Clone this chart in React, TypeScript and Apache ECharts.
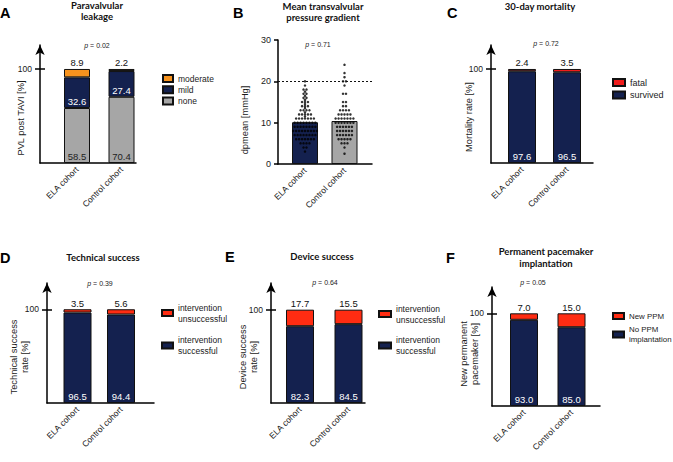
import React, { useEffect, useRef } from 'react';
import * as echarts from 'echarts';

const cohorts = ['ELA cohort', 'Control cohort'];

// A - Paravalvular leakage
const pvlNone = [58.5, 70.4];
const pvlMild = [32.6, 27.4];
const pvlModerate = [8.9, 2.2];

// B - Mean transvalvular pressure gradient
const gradientMean = [10.1, 10.4];
const gradientTicks = [0, 10, 20, 30];
const gradientThreshold = 20;
const elaGradient = [
  20, 19, 18, 18, 17, 17.5, 17, 16, 16, 16.5, 15, 15, 15.5, 15, 14, 14, 14.5, 14,
  13, 13, 13, 13.5, 13, 12, 12, 12, 12, 12.5, 12, 11, 11, 11, 11, 11, 11, 11.5, 11,
  10, 10, 10, 10, 10, 10, 10, 10, 9, 9, 9, 9, 9, 9, 9, 9, 8, 8, 8, 8, 8, 8, 8, 8, 8,
  7, 7, 7, 7, 7, 7, 7, 7, 6, 6, 6, 6, 6, 6, 6, 5, 5, 5, 5, 4, 4, 3,
];
const controlGradient = [
  24, 22, 21, 20, 20, 19, 17, 17, 15, 15, 14, 14, 13, 13, 13, 13, 12, 12, 12, 12, 12,
  11, 11, 11, 11, 11, 11, 11, 10, 10, 10, 10, 10, 10, 10, 9, 9, 9, 9, 9, 9,
  8, 8, 8, 8, 8, 8, 7, 7, 7, 7, 7, 7, 6, 6, 6, 6, 6, 5, 5, 5, 4, 2.5,
];

// C - 30-day mortality
const mortSurvived = [97.6, 96.5];
const mortFatal = [2.4, 3.5];

// D - Technical success
const techSuccess = [96.5, 94.4];
const techFail = [3.5, 5.6];

// E - Device success
const devSuccess = [82.3, 84.5];
const devFail = [17.7, 15.5];

// F - Permanent pacemaker implantation
const noPpm = [93.0, 85.0];
const newPpm = [7.0, 15.0];

const pValues = ['0.02', '0.71', '0.72', '0.39', '0.64', '0.05'];
const percentTicks = [100];

const NAVY = '#14214f';
const GRAY = '#a6a6a6';
const ORANGE = '#f7931e';
const RED_C = '#f01c1c';
const RED = '#ff2c12';
const INK = '#1a1a1a';
const FONT = '"Liberation Sans", Arial, sans-serif';
const TITLE_FONT = 'Lato, "Open Sans", sans-serif';

function swarm(values: number[], center: number, step: number) {
  const counts = new Map<number, number>();
  const seen = new Map<number, number>();
  values.forEach((v) => counts.set(v, (counts.get(v) || 0) + 1));
  return values.map((v) => {
    const n = counts.get(v) || 1;
    const k = seen.get(v) || 0;
    seen.set(v, k + 1);
    return [center + (k - (n - 1) / 2) * step, v];
  });
}

// panel frames: axis extents and bar centres (pixels)
const panels = [
  { left: 40, right: 136, top: 45, bottom: 163, c: [77, 121.5], yMax: 125.5, barW: 26 },
  { left: 278, right: 372, top: 40, bottom: 164, c: [305, 344.5], yMax: 30, barW: 26 },
  { left: 491, right: 593, top: 45, bottom: 163, c: [522, 567], yMax: 125.5, barW: 28 },
  { left: 47, right: 154, top: 283, bottom: 403, c: [77.5, 121], yMax: 128, barW: 28 },
  { left: 271, right: 365, top: 283, bottom: 403, c: [300, 348.5], yMax: 128.6, barW: 28 },
  { left: 492, right: 600, top: 287, bottom: 406, c: [524, 571.5], yMax: 128.4, barW: 28 },
];

function buildOption() {
  const grid: any[] = [];
  const xAxis: any[] = [];
  const yAxis: any[] = [];
  const frameX: number[] = [];
  const frameY: number[] = [];
  const barX: number[] = [];
  const barY: number[] = [];

  const xLabel = {
    rotate: 45,
    fontSize: 8.5,
    color: INK,
    margin: 5,
    fontFamily: FONT,
  };

  panels.forEach((p, i) => {
    const sep = p.c[1] - p.c[0];
    const xMin = -(p.c[0] - p.left) / sep;
    const xMax = 1 + (p.right - p.c[1]) / sep;
    const height = p.bottom - p.top;
    const gf = grid.length;
    grid.push({ left: p.left, top: p.top, width: p.right - p.left, height, containLabel: false });
    frameX[i] = xAxis.length;
    xAxis.push({
      type: 'value',
      gridIndex: gf,
      min: xMin,
      max: xMax,
      axisLine: { show: true, onZero: false, lineStyle: { color: '#000', width: 1.5 } },
      axisTick: { show: false },
      splitLine: { show: false },
      axisLabel:
        i === 1
          ? { ...xLabel, customValues: [0, 1], formatter: (v: number) => cohorts[Math.round(v)] || '' }
          : { show: false },
    });
    frameY[i] = yAxis.length;
    if (i === 1) {
      yAxis.push({
        type: 'value',
        gridIndex: gf,
        min: 0,
        max: p.yMax,
        interval: 10,
        axisLine: { show: true, onZero: false, lineStyle: { color: '#000', width: 1.5 } },
        axisTick: { show: true, length: 4, lineStyle: { color: '#000', width: 1.5 }, customValues: gradientTicks },
        axisLabel: { fontSize: 9, color: INK, margin: 7, fontFamily: FONT, customValues: gradientTicks },
        splitLine: { show: false },
      });
    } else {
      yAxis.push({
        type: 'value',
        gridIndex: gf,
        min: 0,
        max: p.yMax,
        axisLine: {
          show: true,
          onZero: false,
          symbol: ['none', 'arrow'],
          symbolSize: [7, 10],
          lineStyle: { color: '#000', width: 1.5 },
        },
        axisTick: { show: true, length: 5, customValues: percentTicks, lineStyle: { color: '#000', width: 1.5 } },
        axisLabel: { customValues: percentTicks, fontSize: 8.5, color: INK, margin: 8, fontFamily: FONT },
        splitLine: { show: false },
      });
      yAxis.push({
        type: 'value',
        gridIndex: gf,
        min: 0,
        max: p.yMax,
        position: 'left',
        axisLine: { show: false, onZero: false },
        axisTick: { show: true, inside: true, length: 5, customValues: percentTicks, lineStyle: { color: '#000', width: 1.5 } },
        axisLabel: { show: false },
        splitLine: { show: false },
      });
      const gb = grid.length;
      grid.push({ left: p.c[0] - sep / 2, top: p.top, width: sep * 2, height, containLabel: false });
      barX[i] = xAxis.length;
      xAxis.push({
        type: 'category',
        gridIndex: gb,
        data: cohorts,
        axisLine: { show: false },
        axisTick: { show: false },
        axisLabel: { ...xLabel, interval: 0 },
      });
      barY[i] = yAxis.length;
      yAxis.push({
        type: 'value',
        gridIndex: gb,
        min: 0,
        max: p.yMax,
        show: false,
        splitLine: { show: false },
      });
    }
  });

  const fmt = (p: any) => Number(p.value).toFixed(1);
  const seg = (name: string, vals: number[], color: string, i: number, label: any) => ({
    type: 'bar',
    name,
    xAxisIndex: barX[i],
    yAxisIndex: barY[i],
    stack: 'stack' + i,
    barWidth: panels[i].barW,
    data: vals,
    itemStyle: { color, borderColor: '#111', borderWidth: 1 },
    label: { show: true, fontSize: 9.5, fontFamily: FONT, formatter: fmt, textBorderWidth: 0, ...label },
  });
  const bottomLbl = (color: string) => ({ position: 'insideBottom', distance: 2, color });
  const midLbl = { position: 'insideBottom', distance: 1, color: '#fff' };
  const topLbl = { position: 'top', distance: 1, color: '#111' };

  const series: any[] = [
    seg('none', pvlNone, GRAY, 0, bottomLbl('#222')),
    seg('mild', pvlMild, NAVY, 0, midLbl),
    seg('moderate', pvlModerate, ORANGE, 0, topLbl),
    {
      type: 'bar',
      name: 'gradient',
      xAxisIndex: frameX[1],
      yAxisIndex: frameY[1],
      barWidth: panels[1].barW,
      data: gradientMean.map((v, i) => ({ value: [i, v], itemStyle: { color: i === 0 ? NAVY : GRAY } })),
      itemStyle: { borderColor: '#111', borderWidth: 1 },
      markLine: {
        silent: true,
        symbol: 'none',
        label: { show: false },
        lineStyle: { type: [2, 2], color: '#111', width: 1 },
        data: [{ yAxis: gradientThreshold }],
      },
    },
    {
      type: 'scatter',
      name: 'ela points',
      xAxisIndex: frameX[1],
      yAxisIndex: frameY[1],
      symbolSize: 2.5,
      itemStyle: { color: '#000' },
      data: swarm(elaGradient, 0, 0.075),
    },
    {
      type: 'scatter',
      name: 'control points',
      xAxisIndex: frameX[1],
      yAxisIndex: frameY[1],
      symbolSize: 2.5,
      itemStyle: { color: '#000' },
      data: swarm(controlGradient, 1, 0.075),
    },
    seg('survived', mortSurvived, NAVY, 2, bottomLbl('#fff')),
    seg('fatal', mortFatal, RED_C, 2, topLbl),
    seg('intervention\nsuccessful', techSuccess, NAVY, 3, bottomLbl('#fff')),
    seg('intervention\nunsuccessful', techFail, RED, 3, topLbl),
    seg('intervention\nsuccessful', devSuccess, NAVY, 4, bottomLbl('#fff')),
    seg('intervention\nunsuccessful', devFail, RED, 4, topLbl),
    seg('No PPM\nimplantation', noPpm, NAVY, 5, bottomLbl('#fff')),
    seg('New PPM', newPpm, RED, 5, topLbl),
  ];

  const twoLine = { padding: [11, 0, 0, 0], backgroundColor: 'rgba(0,0,0,0)' };
  const twoLineF = { padding: [10, 0, 0, 0], backgroundColor: 'rgba(0,0,0,0)' };
  const legBase = {
    orient: 'vertical',
    padding: 0,
    icon: 'rect',
    selectedMode: false,
    textStyle: { fontSize: 8.5, lineHeight: 11, color: '#222', fontFamily: FONT },
  };
  const legend = [
    { ...legBase, left: 162, top: 73.5, itemWidth: 10, itemHeight: 7, itemGap: 1.2, textStyle: { ...legBase.textStyle, lineHeight: 10 }, data: ['moderate', 'mild', 'none'] },
    { ...legBase, left: 612, top: 77.5, itemWidth: 12, itemHeight: 7, itemGap: 2.5, textStyle: { ...legBase.textStyle, fontSize: 9, lineHeight: 10 }, data: ['fatal', 'survived'] },
    {
      ...legBase, left: 161, top: 296.5, itemWidth: 11, itemHeight: 6, itemGap: -0.5,
      data: [
        { name: 'intervention\nunsuccessful', textStyle: twoLine },
        { name: 'intervention\nsuccessful', textStyle: twoLine },
      ],
    },
    {
      ...legBase, left: 378, top: 297.5, itemWidth: 12, itemHeight: 6, itemGap: -1.5,
      data: [
        { name: 'intervention\nunsuccessful', textStyle: twoLine },
        { name: 'intervention\nsuccessful', textStyle: twoLine },
      ],
    },
    {
      ...legBase, left: 612, top: 311, itemWidth: 11, itemHeight: 6, itemGap: -1.5,
      textStyle: { ...legBase.textStyle, fontSize: 7.9, lineHeight: 10 },
      data: ['New PPM', { name: 'No PPM\nimplantation', textStyle: twoLineF }],
    },
  ];

  const txt = (x: number, y: number, text: string, style: any = {}, extra: any = {}) => ({
    type: 'text',
    x,
    y,
    silent: true,
    ...extra,
    style: { text, align: 'center', verticalAlign: 'middle', fill: INK, fontFamily: FONT, ...style },
  });
  const letter = (x: number, y: number, t: string) => txt(x, y, t, { fontSize: 14.5, fontWeight: 'bold', fill: '#000', align: 'left' });
  const title = (x: number, y: number, t: string) => txt(x, y, t, { fontSize: 9.5, fontWeight: 'bold', fontFamily: TITLE_FONT, lineHeight: 11.5, fill: '#111' });
  const pval = (x: number, y: number, v: string) =>
    txt(x, y, '{i|p} = ' + v, { fontSize: 7, fill: '#222', rich: { i: { fontStyle: 'italic', fontSize: 7, fontFamily: FONT, fill: '#222' } } });
  const yName = (x: number, y: number, t: string) => txt(x, y, t, { fontSize: 9.3, lineHeight: 11 }, { rotation: Math.PI / 2 });

  const graphic = [
    letter(0, 13, 'A'),
    letter(233, 13, 'B'),
    letter(447, 13, 'C'),
    letter(0, 257.5, 'D'),
    letter(225, 257, 'E'),
    letter(446, 257.5, 'F'),
    title(97, 11, 'Paravalvular\nleakage'),
    title(323, 11.75, 'Mean transvalvular\npressure gradient'),
    title(540, 6, '30-day mortality'),
    title(103, 257.5, 'Technical success'),
    title(322, 256.5, 'Device success'),
    title(546, 257.5, 'Permanent pacemaker\nimplantation'),
    pval(97, 45, pValues[0]),
    pval(318, 44, pValues[1]),
    pval(546, 43, pValues[2]),
    pval(100, 283, pValues[3]),
    pval(325, 282, pValues[4]),
    pval(533, 282, pValues[5]),
    yName(21, 118, 'PVL post TAVI [%]'),
    yName(245, 120, 'dpmean [mmHg]'),
    yName(469, 117, 'Mortality rate [%]'),
    yName(19.5, 357, 'Technical success\nrate [%]'),
    yName(248, 357, 'Device success\nrate [%]'),
    yName(469.5, 354, 'New permanent\npacemaker [%]'),
  ];

  return {
    animation: false,
    backgroundColor: '#fff',
    textStyle: { fontFamily: FONT },
    grid,
    xAxis,
    yAxis,
    legend,
    series,
    graphic,
  };
}

export default function App() {
  const ref = useRef<HTMLDivElement>(null);
  useEffect(() => {
    if (!ref.current) return;
    const chart = echarts.init(ref.current, null, { renderer: 'svg' });
    chart.setOption(buildOption() as any);
    return () => chart.dispose();
  }, []);
  return (
    <div
      ref={ref}
      style={{ position: 'fixed', left: 0, top: 0, width: 673, height: 462, background: '#fff' }}
    />
  );
}
